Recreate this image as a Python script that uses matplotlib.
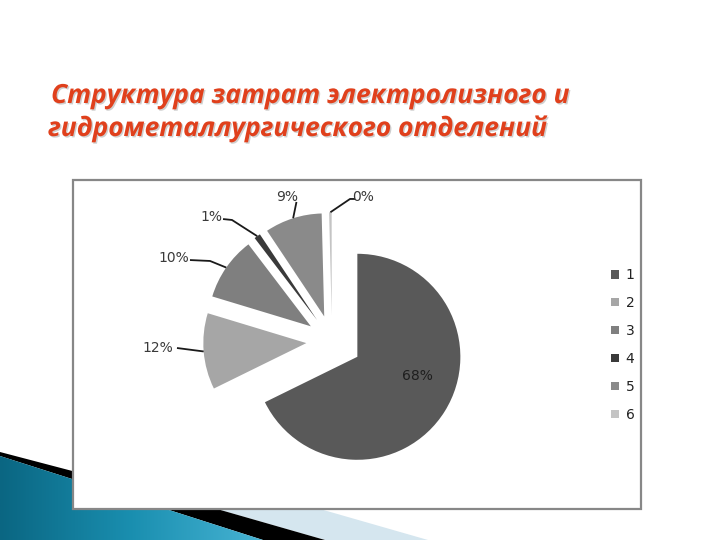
import numpy as np
import matplotlib
matplotlib.use('Agg')
import matplotlib.pyplot as plt
from matplotlib.patches import Polygon, Rectangle
from matplotlib.colors import LinearSegmentedColormap
import matplotlib.patheffects as pe

# ---- data ----
categories = ['1', '2', '3', '4', '5', '6']
values = [68, 12, 10, 1, 9, 0.4]
slice_colors = ['#595959', '#a6a6a6', '#7f7f7f', '#3a3a3a', '#8a8a8a', '#c4c4c4']
title_lines = ['Структура затрат электролизного и',
               'гидрометаллургического отделений']

# ---- layout / style ----
W, H = 720, 540
PIE_C = (332, 341)      # pie centre in pixels (from top-left)
UNIT = 103              # radius in pixels
explode = [0.29, 0.25, 0.25, 0.25, 0.25, 0.25]
label_xy = [(0.83, -0.34), (-1.69, -0.07), (-1.54, 0.81), (-1.17, 1.20),
            (-0.44, 1.40), (0.30, 1.40)]
leader_start = [None, [(-1.505, -0.068)],
                [(-1.379, 0.786), (-1.184, 0.777)],
                [(-1.058, 1.184), (-0.971, 1.175)],
                [(-0.345, 1.35)],
                [(0.223, 1.379), (0.175, 1.379)]]

fig = plt.figure(figsize=(7.2, 5.4), dpi=100)
fig.patch.set_facecolor('white')

# background decoration axes in pixel coordinates
bg = fig.add_axes([0, 0, 1, 1])
bg.axis('off')

# light blue band
bg.add_patch(Polygon([(217, 509), (320, 509), (428, 540), (325, 540)],
                     closed=True, fc='#d5e6ef', ec='none', zorder=1))
# black band
bg.add_patch(Polygon([(0, 452), (217, 509), (325, 540), (263, 540), (0, 456)],
                     closed=True, fc='black', ec='none', zorder=2))
# blue gradient area
blue_poly = Polygon([(0, 456), (263, 540), (0, 540)], closed=True,
                    fc='none', ec='none', zorder=3)
bg.add_patch(blue_poly)
cmap = LinearSegmentedColormap.from_list('b', ['#0a6682', '#1a8fb0', '#48b4d4'])
grad = np.linspace(0, 1, 256).reshape(1, -1)
im = bg.imshow(grad, extent=(0, 265, 540, 450), cmap=cmap, aspect='auto', zorder=3)
im.set_clip_path(blue_poly)
bg.set_xlim(0, W)
bg.set_ylim(H, 0)

# chart box
bg.add_patch(Rectangle((73, 180), 568, 329, fc='white', ec='#878787', lw=1.6, zorder=5))

# title
for i, line in enumerate(title_lines):
    fig.text(51 / W + (-0.004 * i), 1 - (103 + 33 * i) / H, line,
             fontsize=19, style='italic', weight='bold', color='#e0401c',
             family=['Open Sans', 'DejaVu Sans'], va='baseline', ha='left',
             path_effects=[pe.withSimplePatchShadow(offset=(1, -1),
                                                     shadow_rgbFace='#b0b0b0',
                                                     alpha=0.6)])

# pie axes
ax = fig.add_axes([0, 0, 1, 1])
ax.axis('off')
wedges, _ = ax.pie(values, colors=slice_colors, startangle=90, counterclock=False,
                   explode=explode, radius=1, wedgeprops=dict(linewidth=0))
ax.set_xlim(-PIE_C[0] / UNIT, (W - PIE_C[0]) / UNIT)
ax.set_ylim(-(H - PIE_C[1]) / UNIT, PIE_C[1] / UNIT)
ax.set_aspect('auto')

total = sum(values)
for i, (w, v) in enumerate(zip(wedges, values)):
    txt = f"{v / total * 100:.0f}%"
    ax.text(label_xy[i][0], label_xy[i][1], txt, ha='center', va='center',
            fontsize=10, color='#1e1e1e' if i == 0 else '#3a3a3a',
            family='DejaVu Sans')
    if leader_start[i] is not None:
        th = np.deg2rad((w.theta1 + w.theta2) / 2)
        cx, cy = w.center
        arc = (cx + w.r * np.cos(th), cy + w.r * np.sin(th))
        pts = leader_start[i] + [arc]
        xs, ys = zip(*pts)
        ax.plot(xs, ys, color='#1a1a1a', lw=1.3, solid_capstyle='butt')

ax.legend(wedges, categories, loc='center left',
          bbox_to_anchor=(604 / W, 1 - 345 / H), bbox_transform=fig.transFigure,
          frameon=False, fontsize=10, handlelength=0.55, handleheight=0.55,
          handletextpad=0.5, labelspacing=1.0, borderpad=0, labelcolor='#222222')

fig.savefig('out.png', dpi=100)
